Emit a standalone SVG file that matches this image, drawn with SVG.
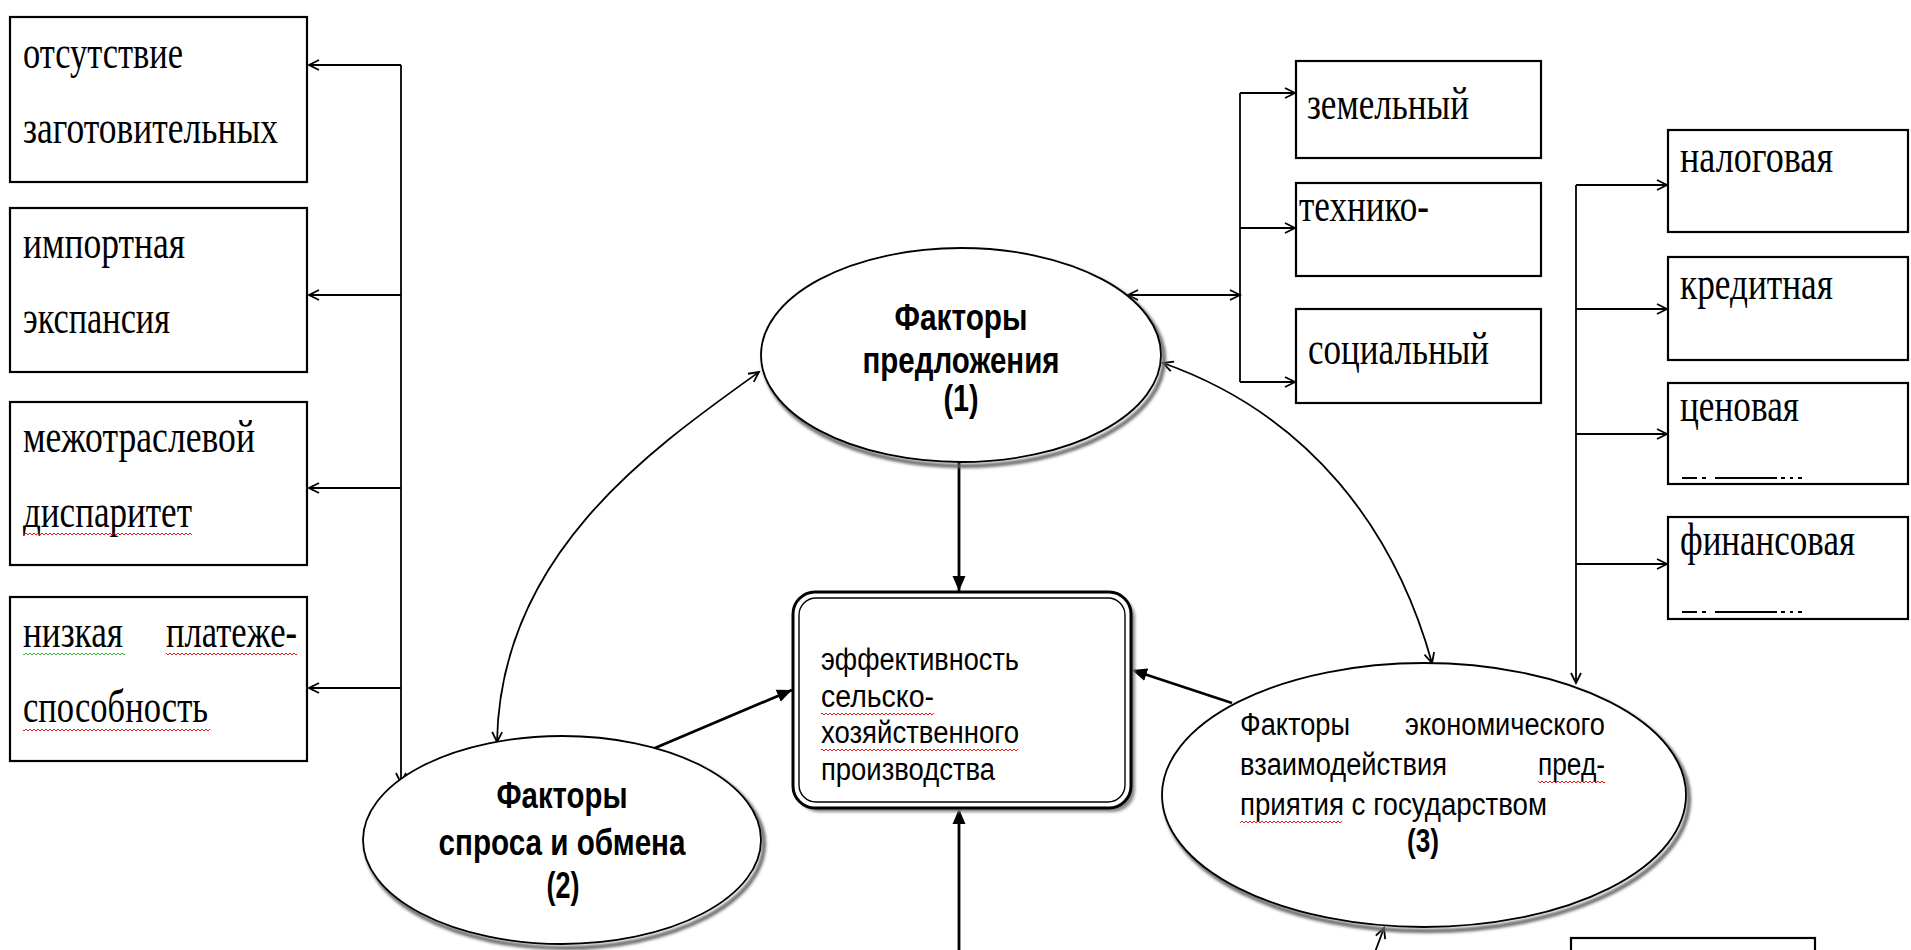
<svg xmlns="http://www.w3.org/2000/svg" width="1911" height="950" viewBox="0 0 1911 950">
<style>
.box{fill:#fff;stroke:#000;stroke-width:2.2}
.tnr{font-family:"Liberation Serif","Times New Roman",serif;font-size:46px;fill:#000}
.ar{font-family:"Liberation Sans",Arial,sans-serif;font-size:31px;fill:#000}
.arb{font-family:"Liberation Sans",Arial,sans-serif;font-size:36px;font-weight:bold;fill:#000}
.ln{fill:none;stroke:#000;stroke-width:1.8}
.thick{fill:none;stroke:#000;stroke-width:2.8}
.ell{fill:#fff;stroke:#000;stroke-width:1.8}
.shd{fill:none;stroke:#666;stroke-width:4}
.wr{fill:url(#wavyR)}
.wg{fill:url(#wavyG)}
</style>
<defs>
<marker id="open" markerUnits="userSpaceOnUse" markerWidth="14" markerHeight="14" refX="11" refY="6" orient="auto-start-reverse" viewBox="0 0 14 12">
<path d="M1,1 L11,6 L1,11" fill="none" stroke="#000" stroke-width="1.8"/>
</marker>
<marker id="solid" markerUnits="userSpaceOnUse" markerWidth="16" markerHeight="14" refX="15" refY="6.5" orient="auto" viewBox="0 0 16 13">
<path d="M0,0 L15,6.5 L0,13 z" fill="#000"/>
</marker>
<pattern id="wavyR" patternUnits="userSpaceOnUse" width="4" height="4">
<path d="M0,3 L2,1 L4,3" fill="none" stroke="#d00" stroke-width="0.9"/>
</pattern>
<pattern id="wavyG" patternUnits="userSpaceOnUse" width="4" height="4">
<path d="M0,3 L2,1 L4,3" fill="none" stroke="#2a2" stroke-width="0.9"/>
</pattern>
<filter id="blur" x="-5%" y="-5%" width="110%" height="110%"><feGaussianBlur stdDeviation="1.5"/></filter>
</defs>
<rect width="1911" height="950" fill="#fff"/>

<g id="connectors">
<path class="ln" d="M401,65 V783" marker-end="url(#open)"/>
<path class="ln" d="M401,65 H309" marker-end="url(#open)"/>
<path class="ln" d="M401,295 H309" marker-end="url(#open)"/>
<path class="ln" d="M401,488 H309" marker-end="url(#open)"/>
<path class="ln" d="M401,688 H309" marker-end="url(#open)"/>
<path class="ln" d="M1128,295 H1240" marker-start="url(#open)" marker-end="url(#open)"/>
<path class="ln" d="M1240,93 V382"/>
<path class="ln" d="M1240,93 H1295" marker-end="url(#open)"/>
<path class="ln" d="M1240,228 H1295" marker-end="url(#open)"/>
<path class="ln" d="M1240,382 H1295" marker-end="url(#open)"/>
<path class="ln" d="M1576,185 V683" marker-end="url(#open)"/>
<path class="ln" d="M1576,185 H1667" marker-end="url(#open)"/>
<path class="ln" d="M1576,309 H1667" marker-end="url(#open)"/>
<path class="ln" d="M1576,434 H1667" marker-end="url(#open)"/>
<path class="ln" d="M1576,564 H1667" marker-end="url(#open)"/>
<path class="ln" d="M759,372 C650,450 500,555 497,742" marker-start="url(#open)" marker-end="url(#open)"/>
<path class="ln" d="M1163,363 C1310,415 1395,530 1432,663" marker-start="url(#open)" marker-end="url(#open)"/>
<path class="ln" d="M1375,952 L1384,928" marker-end="url(#open)"/>
<path class="thick" d="M959,462 V591" marker-end="url(#solid)"/>
<path class="thick" d="M655,748 L792,690" marker-end="url(#solid)"/>
<path class="thick" d="M1232,703 L1132,670" marker-end="url(#solid)"/>
<path class="thick" d="M959,952 V809" marker-end="url(#solid)"/>
</g>

<g id="n-otsutstvie">
<rect class="box" x="10" y="17" width="297" height="165"/>
<text class="tnr" x="23" y="68" textLength="160" lengthAdjust="spacingAndGlyphs">отсутствие</text>
<text class="tnr" x="23" y="143" textLength="255" lengthAdjust="spacingAndGlyphs">заготовительных</text>
</g>
<g id="n-import">
<rect class="box" x="10" y="208" width="297" height="164"/>
<text class="tnr" x="23" y="258" textLength="162" lengthAdjust="spacingAndGlyphs">импортная</text>
<text class="tnr" x="23" y="333" textLength="147" lengthAdjust="spacingAndGlyphs">экспансия</text>
</g>
<g id="n-disparitet">
<rect class="box" x="10" y="402" width="297" height="163"/>
<text class="tnr" x="23" y="452" textLength="232" lengthAdjust="spacingAndGlyphs">межотраслевой</text>
<text class="tnr" x="23" y="527" textLength="169" lengthAdjust="spacingAndGlyphs">диспаритет</text>
<rect class="wr" x="23" y="532" width="169" height="4"/>
</g>
<g id="n-platezh">
<rect class="box" x="10" y="597" width="297" height="164"/>
<text class="tnr" x="23" y="647" textLength="100" lengthAdjust="spacingAndGlyphs">низкая</text>
<text class="tnr" x="166" y="647" textLength="131" lengthAdjust="spacingAndGlyphs">платеже-</text>
<text class="tnr" x="23" y="722" textLength="185" lengthAdjust="spacingAndGlyphs">способность</text>
<rect class="wg" x="23" y="652" width="102" height="4"/>
<rect class="wr" x="166" y="652" width="131" height="4"/>
<rect class="wr" x="23" y="728" width="187" height="4"/>
</g>

<g id="n-zemelny">
<rect class="box" x="1296" y="61" width="245" height="97"/>
<text class="tnr" x="1307" y="119" textLength="162" lengthAdjust="spacingAndGlyphs">земельный</text>
</g>
<g id="n-tehniko">
<rect class="box" x="1296" y="183" width="245" height="93"/>
<text class="tnr" x="1299" y="221" textLength="130" lengthAdjust="spacingAndGlyphs">технико-</text>
</g>
<g id="n-social">
<rect class="box" x="1296" y="309" width="245" height="94"/>
<text class="tnr" x="1308" y="364" textLength="181" lengthAdjust="spacingAndGlyphs">социальный</text>
</g>

<g id="n-nalog">
<rect class="box" x="1668" y="130" width="240" height="102"/>
<text class="tnr" x="1680" y="172" textLength="153" lengthAdjust="spacingAndGlyphs">налоговая</text>
</g>
<g id="n-kredit">
<rect class="box" x="1668" y="257" width="240" height="103"/>
<text class="tnr" x="1680" y="299" textLength="153" lengthAdjust="spacingAndGlyphs">кредитная</text>
</g>
<g id="n-cena">
<rect class="box" x="1668" y="383" width="240" height="101"/>
<text class="tnr" x="1680" y="421" textLength="119" lengthAdjust="spacingAndGlyphs">ценовая</text>
<path d="M1682,478 h15 M1702,478 h4 M1715,478 h62 M1781,478 h4 M1790,478 h3 M1798,478 h4" stroke="#000" stroke-width="2"/>
</g>
<g id="n-finans">
<rect class="box" x="1668" y="517" width="240" height="102"/>
<text class="tnr" x="1680" y="555" textLength="175" lengthAdjust="spacingAndGlyphs">финансовая</text>
<path d="M1682,612 h15 M1702,612 h4 M1715,612 h62 M1781,612 h4 M1790,612 h3 M1798,612 h4" stroke="#000" stroke-width="2"/>
</g>

<g id="n-bottom">
<rect class="box" x="1571" y="938" width="244" height="40"/>
</g>

<g id="n-predlozh">
<ellipse class="shd" cx="964" cy="359" rx="200" ry="107" filter="url(#blur)"/>
<ellipse class="ell" cx="961" cy="355" rx="200" ry="107"/>
<text class="arb" x="961" y="330" text-anchor="middle" textLength="133" lengthAdjust="spacingAndGlyphs">Факторы</text>
<text class="arb" x="961" y="373" text-anchor="middle" textLength="197" lengthAdjust="spacingAndGlyphs">предложения</text>
<text class="arb" x="961" y="411" text-anchor="middle" textLength="35" lengthAdjust="spacingAndGlyphs">(1)</text>
</g>

<g id="n-spros">
<ellipse class="shd" cx="565" cy="844" rx="199" ry="104" filter="url(#blur)"/>
<ellipse class="ell" cx="562" cy="840" rx="199" ry="104"/>
<text class="arb" x="562" y="808" text-anchor="middle" textLength="131" lengthAdjust="spacingAndGlyphs">Факторы</text>
<text class="arb" x="562" y="855" text-anchor="middle" textLength="247" lengthAdjust="spacingAndGlyphs">спроса и обмена</text>
<text class="arb" x="563" y="898" text-anchor="middle" textLength="33" lengthAdjust="spacingAndGlyphs">(2)</text>
</g>

<g id="n-gos">
<ellipse class="shd" cx="1427" cy="799" rx="262" ry="132" filter="url(#blur)"/>
<ellipse class="ell" cx="1424" cy="795" rx="262" ry="132"/>
<text class="ar" x="1240" y="735" textLength="110" lengthAdjust="spacingAndGlyphs">Факторы</text>
<text class="ar" x="1405" y="735" textLength="200" lengthAdjust="spacingAndGlyphs">экономического</text>
<text class="ar" x="1240" y="775" textLength="207" lengthAdjust="spacingAndGlyphs">взаимодействия</text>
<text class="ar" x="1538" y="775" textLength="67" lengthAdjust="spacingAndGlyphs">пред-</text>
<text class="ar" x="1240" y="815" textLength="307" lengthAdjust="spacingAndGlyphs">приятия с государством</text>
<rect class="wr" x="1538" y="780" width="67" height="4"/>
<rect class="wr" x="1240" y="820" width="102" height="4"/>
<text class="arb" x="1423" y="852" text-anchor="middle" textLength="32" lengthAdjust="spacingAndGlyphs" style="font-size:33px">(3)</text>
</g>

<g id="n-effekt">
<rect x="797" y="596" width="338" height="216" rx="22" fill="#888" filter="url(#blur)"/>
<rect x="793" y="592" width="338" height="216" rx="22" fill="#fff" stroke="#000" stroke-width="3"/>
<rect x="799" y="598" width="326" height="204" rx="17" fill="none" stroke="#000" stroke-width="1.4"/>
<text class="ar" x="821" y="670" textLength="198" lengthAdjust="spacingAndGlyphs">эффективность</text>
<text class="ar" x="821" y="707" textLength="113" lengthAdjust="spacingAndGlyphs">сельско-</text>
<text class="ar" x="821" y="743" textLength="198" lengthAdjust="spacingAndGlyphs">хозяйственного</text>
<text class="ar" x="821" y="780" textLength="174" lengthAdjust="spacingAndGlyphs">производства</text>
<rect class="wr" x="821" y="712" width="113" height="4"/>
<rect class="wr" x="821" y="748" width="197" height="4"/>
</g>
</svg>
